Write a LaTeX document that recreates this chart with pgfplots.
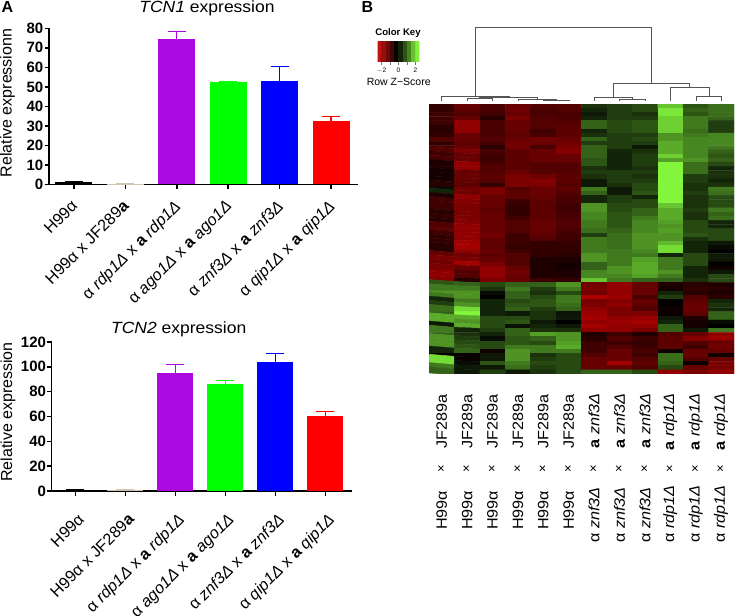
\documentclass[border=0pt]{standalone}
\usepackage{pgfplots}
\pgfplotsset{compat=1.18}
\usepackage{fontspec}
\setmainfont{Liberation Sans}
\newcommand\fpx[1]{\fontsize{#1pt}{#1pt}\selectfont}
\newcommand\sx[1]{\scalebox{1.08}[1]{#1}}
\definecolor{cpurple}{RGB}{170,10,225}
\definecolor{cgreen}{RGB}{0,255,0}
\definecolor{cblue}{RGB}{0,0,255}
\definecolor{cred}{RGB}{255,0,0}
\definecolor{ctan}{RGB}{205,195,175}
\definecolor{dend}{RGB}{85,85,85}
\pgfplotsset{
  barax/.style={
    scale only axis, clip=false,
    axis x line=bottom, axis y line=left,
    axis line style={-,line width=1.5pt},
    tick style={black,line width=1.5pt},
    tick align=outside, major tick length=4.5pt,
    xtick={1,2,3,4,5,6},
    xticklabels={H99α,H99α x JF289\textbf{a},α \textit{rdp1Δ} x \textbf{a} \textit{rdp1Δ},α \textit{ago1Δ} x \textbf{a} \textit{ago1Δ},α \textit{znf3Δ} x \textbf{a} \textit{znf3Δ},α \textit{qip1Δ} x \textbf{a} \textit{qip1Δ}},
    xticklabel style={font=\fpx{16.2},rotate=45,anchor=north east,inner sep=1pt},
    yticklabel style={font=\bfseries\fpx{15},inner sep=1pt},
    /pgf/number format/assume math mode=true,
    ymin=0,
  },
  bb/.style={ybar,bar shift=0pt,bar width=#1,draw=none},
  ee/.style={fill=#1,error bars/.cd,y dir=plus,y explicit,
    error bar style={#1,line width=1.3pt},
    error mark options={#1,rotate=90,mark size=9pt,line width=1.3pt}},
  dg/.style={dend,line width=0.7pt,no marks},
}
\begin{document}
\begin{tikzpicture}[x=1pt,y=1pt]
\path[use as bounding box] (0,0) rectangle (735,615);

% ---------- TCN1
\begin{axis}[barax,at={(49pt,430.5pt)},anchor=south west,width=309pt,height=156.2pt,
  xticklabel style={xshift=-8.5pt,yshift=-3.4pt},
  xmin=0.514,xmax=6.525,ymax=80,ytick={0,10,...,80}]
\addplot[bb=37pt,ee=black] coordinates {(1,1.2) +- (0,0.1)};
\addplot[bb=37pt,ee=ctan] coordinates {(2,0.5) +- (0,0.05)};
\addplot[bb=37pt,ee=cpurple] coordinates {(3,74.5) +- (0,4)};
\addplot[bb=37pt,ee=cgreen] coordinates {(4,52.5) +- (0,0.3)};
\addplot[bb=37pt,ee=cblue] coordinates {(5,52.8) +- (0,7.5)};
\addplot[bb=37pt,ee=cred] coordinates {(6,32.3) +- (0,2.4)};
\end{axis}

% ---------- TCN2
\begin{axis}[barax,at={(51.7pt,124pt)},anchor=south west,width=300pt,height=149pt,
  xticklabel style={xshift=-9.6pt,yshift=-12pt},
  xmin=0.528,xmax=6.528,ymax=120,ytick={0,20,...,120}]
\addplot[bb=36pt,ee=black] coordinates {(1,1) +- (0,0.1)};
\addplot[bb=36pt,ee=ctan] coordinates {(2,0.8) +- (0,0.05)};
\addplot[bb=36pt,ee=cpurple] coordinates {(3,95) +- (0,7)};
\addplot[bb=36pt,ee=cgreen] coordinates {(4,86) +- (0,3)};
\addplot[bb=36pt,ee=cblue] coordinates {(5,103.5) +- (0,7)};
\addplot[bb=36pt,ee=cred] coordinates {(6,60) +- (0,4)};
\end{axis}

% ---------- heat map
\begin{axis}[scale only axis,at={(429pt,241pt)},anchor=south west,width=305pt,height=270pt,
  hide axis,y dir=reverse,
  xmin=-0.5,xmax=11.5,ymin=-0.5,ymax=64.5,
  colormap={rg}{rgb255=(205,0,0) rgb255=(0,0,0) rgb255=(130,245,60)},
  point meta min=-10,point meta max=10]
\addplot[matrix plot*,mesh/cols=12,mesh/ordering=x varies,point meta=explicit]
 table[row sep=crcr,header=false,x expr={mod(\coordindex,12)},y expr={floor(\coordindex/12)},meta index=0] {
-2.5\\ -5\\ -3.5\\ -5\\ -4\\ -4\\ 2\\ 2.5\\ 3\\ 8\\ 3.5\\ 4.5\\
-2.5\\ -4.5\\ -3.5\\ -5.5\\ -3.5\\ -4\\ 1.5\\ 2.5\\ 3\\ 9.5\\ 4\\ 4.5\\
-3\\ -4\\ -3\\ -5\\ -3.5\\ -3.5\\ 1\\ 2.5\\ 2\\ 9.5\\ 3.5\\ 4.5\\
-3\\ -5\\ -2\\ -6\\ -4\\ -3.5\\ 1.5\\ 2.5\\ 2.5\\ 8.5\\ 5\\ 4\\
-3\\ -7\\ -3.5\\ -5\\ -4\\ -4\\ 4\\ 3\\ 3.5\\ 8.5\\ 5\\ 2.5\\
-2\\ -7\\ -3.5\\ -5\\ -4\\ -4.5\\ 4\\ 3\\ 3.5\\ 8.5\\ 5\\ 2.5\\
-2\\ -7\\ -3.5\\ -5\\ -3\\ -4.5\\ 1.5\\ 3\\ 3.5\\ 8.5\\ 4.5\\ 2.5\\
-2.5\\ -5\\ -3.5\\ -4.5\\ -3.5\\ -4.5\\ 2\\ 2.5\\ 2.5\\ 6\\ 5\\ 5.5\\
-4\\ -5\\ -4\\ -5\\ -5.5\\ -5\\ 4\\ 2.5\\ 3\\ 6\\ 5.5\\ 5.5\\
-2.5\\ -4.5\\ -3.5\\ -5.5\\ -5\\ -5.5\\ 2.5\\ 2.5\\ 2.5\\ 7\\ 5.5\\ 5.5\\
-3.5\\ -5\\ -2\\ -5.5\\ -3.5\\ -6\\ 4\\ 2.5\\ 1\\ 7\\ 5.5\\ 5\\
-4\\ -6\\ -3.5\\ -4.5\\ -5\\ -6.5\\ 4\\ 1.5\\ 2\\ 7\\ 5.5\\ 4\\
-3\\ -5\\ -3\\ -4.5\\ -5\\ -5\\ 4\\ 1.5\\ 2.5\\ 8.5\\ 5.5\\ 3.5\\
-3.5\\ -5\\ -3\\ -4.5\\ -5\\ -5\\ 3.5\\ 1.5\\ 2.5\\ 6.5\\ 6\\ 4\\
-1.5\\ -7\\ -3.5\\ -4.5\\ -4\\ -4\\ 3.5\\ 1.5\\ 2.5\\ 10\\ 4.5\\ 3\\
-1.5\\ -7\\ -4\\ -4.5\\ -4\\ -4\\ 2\\ 1.5\\ 2\\ 10\\ 4.5\\ 1.5\\
-1\\ -5\\ -4\\ -5\\ -4\\ -4\\ 2.5\\ 2.5\\ 2.5\\ 10\\ 4.5\\ 2\\
-1\\ -5\\ -4.5\\ -6\\ -5.5\\ -4.5\\ 2\\ 2.5\\ 2\\ 10.5\\ 2.5\\ 2\\
-1\\ -5\\ -4\\ -6\\ -6.5\\ -4.5\\ 1\\ 2.5\\ 2.5\\ 10.5\\ 2.5\\ 1.5\\
-2\\ -4.5\\ -2.5\\ -6\\ -6\\ -4\\ 1\\ 2\\ 3\\ 10\\ 2\\ 2\\
0.5\\ -5.5\\ -6\\ -4\\ -5\\ -4.5\\ 5\\ 1\\ 3\\ 10.5\\ 2\\ 5\\
1.5\\ -5.5\\ -6\\ -4.5\\ -5\\ -4\\ 4\\ 1\\ 3.5\\ 10.5\\ 2.5\\ 4.5\\
-1.5\\ -7\\ -5\\ -4.5\\ -5\\ -3.5\\ 1.5\\ 2.5\\ 1.5\\ 10.5\\ 2\\ 3\\
-3\\ -6.5\\ -5\\ -3\\ -4.5\\ -3.5\\ 1.5\\ 2.5\\ 3\\ 10\\ 2\\ 3\\
-3\\ -6\\ -5\\ -2.5\\ -4.5\\ -3\\ 6\\ 3\\ 3\\ 8\\ 2\\ 3\\
-3\\ -6\\ -4.5\\ -2.5\\ -4.5\\ -3\\ 6\\ 3\\ 4\\ 7\\ 2.5\\ 5\\
-2\\ -6\\ -5\\ -2.5\\ -4.5\\ -3.5\\ 5.5\\ 3.5\\ 4\\ 7\\ 2\\ 4\\
-2.5\\ -6\\ -5\\ -3\\ -4.5\\ -3.5\\ 5.5\\ 3.5\\ 5\\ 7\\ 2\\ 4.5\\
-2\\ -6.5\\ -5\\ -4\\ -5\\ -4\\ 5\\ 3.5\\ 5.5\\ 6.5\\ 3\\ 1.5\\
-4\\ -7\\ -5\\ -4\\ -5\\ -4\\ 5\\ 3.5\\ 5.5\\ 6\\ 3\\ 1.5\\
-4.5\\ -7\\ -5\\ -4\\ -5\\ -3.5\\ 4.5\\ 4\\ 5.5\\ 6.5\\ 3\\ 3\\
-3\\ -7\\ -5.5\\ -3\\ -4.5\\ -3\\ 2.5\\ 4.5\\ 6\\ 6\\ 3.5\\ 3\\
-2.5\\ -7\\ -5\\ -3\\ -4\\ -3\\ 5\\ 4.5\\ 6\\ 6\\ 2\\ 3\\
-2.5\\ -8\\ -4.5\\ -3\\ -2.5\\ -2.5\\ 5\\ 4.5\\ 6\\ 7.5\\ 1.5\\ 1\\
-2\\ -8\\ -4.5\\ -2.5\\ -2.5\\ -2.5\\ 5\\ 4.5\\ 6\\ 9\\ 1.5\\ 0.5\\
-1.5\\ -7\\ -5\\ -3\\ -2.5\\ -2.5\\ 5\\ 5\\ 5.5\\ 9\\ 1.5\\ 0\\
-5\\ -5.5\\ -4.5\\ -4\\ -2.5\\ -2\\ 6\\ 5\\ 5\\ 1.5\\ 3\\ 1\\
-6\\ -6\\ -5\\ -4\\ -1.5\\ -1.5\\ 6\\ 5\\ 6.5\\ 5\\ 3\\ 1\\
-5.5\\ -8\\ -6\\ -4\\ -1.5\\ -1\\ 4\\ 5\\ 7\\ 5\\ 3\\ 0\\
-6\\ -5\\ -7\\ -5\\ -1.5\\ -1\\ 4\\ 6\\ 7\\ 5\\ 1.5\\ -0.8\\
-7\\ -4\\ -7\\ -5.5\\ -1.5\\ -1.5\\ 5.5\\ 6\\ 7\\ 6\\ 1.5\\ 1\\
-7\\ -4\\ -7\\ -5\\ -1.5\\ -1.5\\ 5.5\\ 5.5\\ 6.5\\ 5\\ 1.5\\ 3\\
-6.5\\ -2\\ -6\\ -5\\ -3\\ -2.5\\ 8\\ 5\\ 4\\ 4\\ 2\\ 3\\
3.5\\ 4\\ 3\\ 4\\ 4\\ 6\\ -5.5\\ -7\\ -5\\ -1.5\\ -2\\ -1.5\\
5\\ 5\\ 2\\ 5\\ 2.5\\ 5\\ -6\\ -7\\ -5\\ -1\\ -2.5\\ -2\\
6\\ 6\\ 0.5\\ 4\\ 2\\ 3\\ -5.5\\ -7\\ -5\\ 1.5\\ -2\\ -1.5\\
5\\ 6\\ 0\\ 4\\ 3\\ 5\\ -8.5\\ -7.5\\ -3.5\\ 2.5\\ -4\\ -2\\
1.5\\ 5\\ 1.5\\ 3\\ 3.5\\ 5\\ -6\\ -6.5\\ -5\\ 0\\ -4.5\\ 1.5\\
2.5\\ 6\\ 1.5\\ 3.5\\ 3.5\\ 4.5\\ -6\\ -7\\ -4.5\\ -0.3\\ -5\\ 2\\
4.5\\ 9\\ 1.5\\ 4\\ 2.5\\ 4\\ -7\\ -6\\ -4\\ -0.8\\ -5\\ 1.5\\
4\\ 10.5\\ 1.5\\ 1\\ 2\\ 0.8\\ -7.5\\ -6\\ -6\\ -0.5\\ -4.5\\ 4\\
7\\ 7\\ 3\\ 3\\ 2\\ 1\\ -8\\ -7\\ -7.5\\ 1\\ -1.5\\ 4\\
7\\ 6\\ 3\\ 3.5\\ 1\\ 0\\ -7\\ -7.5\\ -8\\ 1.5\\ -1\\ 0.5\\
1\\ 7\\ 3\\ 0.8\\ 1.5\\ 1\\ -8\\ -7\\ -7\\ 4\\ -1\\ 0\\
5\\ 1.5\\ 2.5\\ 4\\ 2\\ 2\\ -7\\ -7\\ -6\\ 4\\ 1\\ 5\\
4\\ 2\\ 1.5\\ 4\\ 6.5\\ 6\\ -1.5\\ -3\\ -1.5\\ -4\\ -5\\ -7\\
6\\ 2.5\\ 0.5\\ 3.5\\ 4\\ 6\\ -2\\ -4\\ -3\\ -4.5\\ -6.5\\ -7.5\\
6\\ 3\\ 3\\ 3.5\\ 3\\ 6.5\\ -3\\ -3\\ -2.5\\ -4.5\\ -4\\ -5\\
6\\ 3.5\\ 3\\ 5\\ 5\\ 7\\ -3\\ -4\\ -3\\ -4.5\\ -3\\ -5.5\\
1.5\\ 4\\ -0.8\\ 6\\ 5\\ 5\\ -3\\ -5\\ -3.5\\ -0.7\\ -5\\ -5\\
-0.5\\ -0.3\\ 1\\ 6\\ 2\\ 3\\ -4\\ -5\\ -3\\ 4.5\\ -5\\ -0.8\\
9\\ -0.5\\ 1\\ 6\\ 2.5\\ 3\\ -5\\ -5\\ -4\\ 4.5\\ -4\\ -5\\
9\\ 0.5\\ 3.5\\ 5\\ 3\\ 3\\ -5\\ -8\\ -4.5\\ 4\\ -0.5\\ -6\\
5\\ 1\\ 1\\ 4.5\\ 2.5\\ 3\\ -5\\ -5\\ -4\\ 3\\ -5\\ -6\\
4\\ 1\\ 2.5\\ 1\\ 2\\ 3\\ 4\\ 4\\ 3\\ -7\\ -6\\ -7\\
};
\end{axis}

% ---------- colour key
\begin{axis}[scale only axis,at={(377.7pt,553.3pt)},anchor=south west,width=41.6pt,height=20pt,
  xmin=-2.45,xmax=2.45,ymin=0,ymax=1,ytick=\empty,
  xtick={-2,-1,0,1,2},xticklabels={$-$2,,0,,2},
  tick align=outside,major tick length=3.5pt,axis x line*=bottom,axis y line=none,
  tick style={black!55,line width=0.5pt},axis line style={black!55,line width=0.4pt},
  xticklabel style={font=\fpx{6.5},inner sep=1pt,yshift=-1.5pt},
  colormap={rg}{rgb255=(215,20,20) rgb255=(0,0,0) rgb255=(130,240,60)},
  point meta min=-10,point meta max=10]
\addplot[matrix plot*,mesh/cols=10,mesh/ordering=x varies,point meta=explicit] coordinates {
(-2.25,0)[-9] (-1.75,0)[-7] (-1.25,0)[-5] (-0.75,0)[-3] (-0.25,0)[-0.5] (0.25,0)[1.5] (0.75,0)[3.5] (1.25,0)[5.5] (1.75,0)[8] (2.25,0)[10]

(-2.25,1)[-9] (-1.75,1)[-7] (-1.25,1)[-5] (-0.75,1)[-3] (-0.25,1)[-0.5] (0.25,1)[1.5] (0.75,1)[3.5] (1.25,1)[5.5] (1.75,1)[8] (2.25,1)[10]
};
\end{axis}

% ---------- dendrogram and free text, in picture pixels
\begin{axis}[scale only axis,at={(0pt,0pt)},anchor=south west,width=735pt,height=615pt,
  xmin=0,xmax=735,ymin=0,ymax=615,y dir=reverse,hide axis,clip=false]
\addplot[dg] coordinates {(475.3,96.7) (475.3,27.3) (651.3,27.3) (651.3,83.3)};
\addplot[dg] coordinates {(613.3,97.7) (613.3,83.3) (689.7,83.3) (689.7,87.7)};
\addplot[dg] coordinates {(670.7,100.7) (670.7,87.7) (709,87.7) (709,96.3)};
\addplot[dg] coordinates {(696.3,101) (696.3,96.3) (721.7,96.3) (721.7,101)};
\addplot[dg] coordinates {(594.3,100.7) (594.3,97.7) (632.7,97.7) (632.7,99.3)};
\addplot[dg] coordinates {(619.7,101) (619.7,99.3) (645.3,99.3) (645.3,101)};
\addplot[dg] coordinates {(441.7,101) (441.7,96.7) (509,96.7) (509,97.3)};
\addplot[dg] coordinates {(479.7,98.3) (479.7,97.3) (537.7,97.3) (537.7,98.7)};
\addplot[dg] coordinates {(467.3,101) (467.3,98.3) (492.3,98.3) (492.3,101)};
\addplot[dg] coordinates {(518,101) (518,99.3) (556.7,99.3) (556.7,100)};
\addplot[dg] coordinates {(543.3,101) (543.3,100) (569,100) (569,101)};

\node[font=\bfseries\fpx{16},anchor=base west,inner sep=0pt] at (axis cs:1.5,12.3) {A};
\node[font=\bfseries\fpx{16},anchor=base west,inner sep=0pt] at (axis cs:361.5,12.3) {B};
\node[font=\fpx{16.2},anchor=base,inner sep=0pt] at (axis cs:207,13) {\sx{\textit{TCN1} expression}};
\node[font=\fpx{16.2},anchor=base,inner sep=0pt] at (axis cs:178.7,333) {\sx{\textit{TCN2} expression}};
\node[font=\fpx{16},rotate=90,inner sep=0pt] at (axis cs:7.5,103) {Relative expressionn};
\node[font=\fpx{16},rotate=90,inner sep=0pt] at (axis cs:8,412) {Relative expression};
\node[font=\bfseries\fpx{9.6},inner sep=0pt] at (axis cs:398,33.3) {Color Key};
\node[font=\fpx{10.5},inner sep=0pt] at (axis cs:398.7,82) {Row Z−Score};

\pgfplotsinvokeforeach{441.7,467.1,492.5,517.9,543.3,568.7}{
  \node[font=\fpx{15},rotate=90,anchor=east,inner sep=0pt] at (axis cs:#1,394.5) {\sx{JF289a}};
  \node[font=\fpx{13},rotate=90,inner sep=0pt] at (axis cs:#1,468.5) {×};
  \node[font=\fpx{15},rotate=90,anchor=west,inner sep=0pt] at (axis cs:#1,530) {\sx{H99α}};
}
\pgfplotsinvokeforeach{594.1,619.5,644.9}{
  \node[font=\fpx{15},rotate=90,anchor=east,inner sep=0pt] at (axis cs:#1,393) {\sx{\textbf{a} \textit{znf3Δ}}};
  \node[font=\fpx{13},rotate=90,inner sep=0pt] at (axis cs:#1,468.5) {×};
  \node[font=\fpx{15},rotate=90,anchor=west,inner sep=0pt] at (axis cs:#1,543) {\sx{α \textit{znf3Δ}}};
}
\pgfplotsinvokeforeach{670.3,695.7,721.1}{
  \node[font=\fpx{15},rotate=90,anchor=east,inner sep=0pt] at (axis cs:#1,393) {\sx{\textbf{a} \textit{rdp1Δ}}};
  \node[font=\fpx{13},rotate=90,inner sep=0pt] at (axis cs:#1,468.5) {×};
  \node[font=\fpx{15},rotate=90,anchor=west,inner sep=0pt] at (axis cs:#1,543) {\sx{α \textit{rdp1Δ}}};
}
\end{axis}
\end{tikzpicture}
\end{document}
